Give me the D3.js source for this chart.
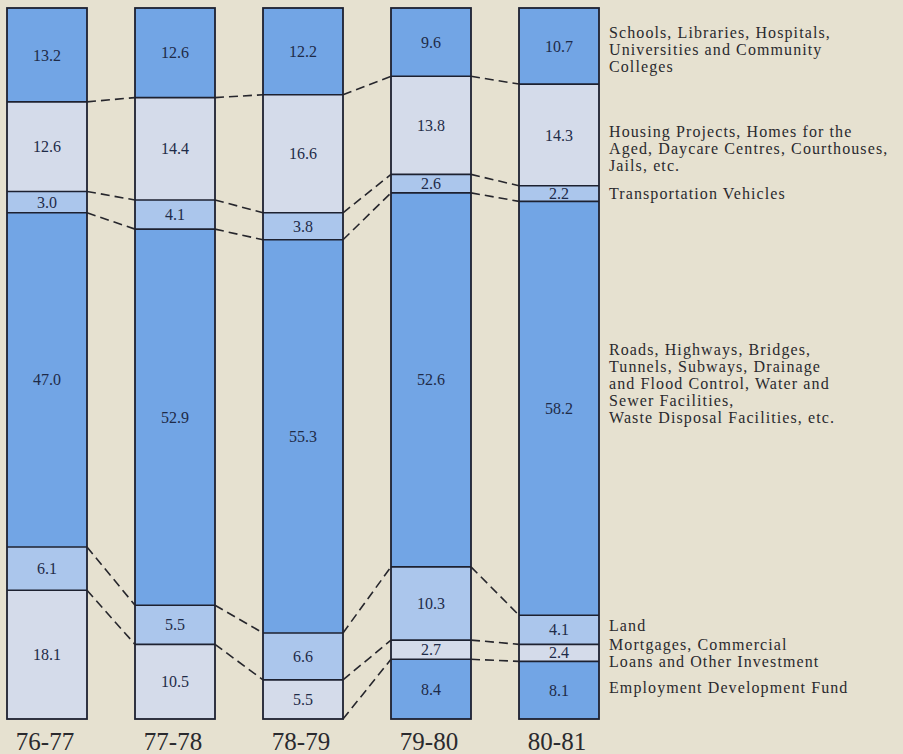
<!DOCTYPE html>
<html>
<head>
<meta charset="utf-8">
<script src="https://cdn.jsdelivr.net/npm/d3@7"></script>
<style>
  html, body { margin: 0; padding: 0; background: #e6e1d0; }
  svg { display: block; }
</style>
</head>
<body>
<svg id="chart" width="903" height="754"></svg>
<script>
// Fiscal years shown as stacked 100% bars
const years = ["76-77", "77-78", "78-79", "79-80", "80-81"];

// Spending categories, top to bottom in each bar
const categories = ["schools", "housing", "transport", "roads", "land", "mortgages", "employment"];

// Share of capital spending (%) per category per year
const schools    = [13.2, 12.6, 12.2, 9.6, 10.7];
const housing    = [12.6, 14.4, 16.6, 13.8, 14.3];
const transport  = [3.0, 4.1, 3.8, 2.6, 2.2];
const roads      = [47.0, 52.9, 55.3, 52.6, 58.2];
const land       = [6.1, 5.5, 6.6, 10.3, 4.1];
const mortgages  = [18.1, 10.5, 5.5, 2.7, 2.4];
const employment = [0, 0, 0, 8.4, 8.1];

// Category descriptions printed beside the last bar
const legendLines = [
  ["Schools, Libraries, Hospitals,", "Universities and Community", "Colleges"],
  ["Housing Projects, Homes for the", "Aged, Daycare Centres, Courthouses,", "Jails, etc."],
  ["Transportation Vehicles"],
  ["Roads, Highways, Bridges,", "Tunnels, Subways, Drainage", "and Flood Control, Water and", "Sewer Facilities,", "Waste Disposal Facilities, etc."],
  ["Land"],
  ["Mortgages, Commercial", "Loans and Other Investment"],
  ["Employment Development Fund"]
];

// ---- styling / layout ----
const colors = {
  schools: "#72a5e5", housing: "#d4dbea", transport: "#abc6ec", roads: "#72a5e5",
  land: "#abc6ec", mortgages: "#d4dbea", employment: "#72a5e5"
};
const legendBaselines = [38, 137, 199, 355, 631, 650, 693];
const legendX = 609;
const legendLineHeight = 17;
const ink = "#1d2130";
const serif = "'Liberation Serif', 'Times New Roman', serif";

const rows = years.map((y, i) => ({
  year: y,
  schools: schools[i], housing: housing[i], transport: transport[i], roads: roads[i],
  land: land[i], mortgages: mortgages[i], employment: employment[i]
}));

const stack = d3.stack().keys(categories);
const series = stack(rows);

const svg = d3.select("#chart");

const x = d3.scaleBand().domain(years).range([7, 599]).paddingInner(0.375).paddingOuter(0);
const y = d3.scaleLinear().domain([0, 100]).range([8, 719]);
const bw = x.bandwidth();

// Segment fills
const segG = svg.append("g");
series.forEach(s => {
  segG.selectAll(null)
    .data(s.filter(d => d[1] - d[0] > 0))
    .join("rect")
    .attr("x", d => x(d.data.year))
    .attr("y", d => y(d[0]))
    .attr("width", bw)
    .attr("height", d => y(d[1]) - y(d[0]))
    .attr("fill", colors[s.key]);
});

// Boundaries between segments inside each bar
const boundG = svg.append("g").attr("stroke", ink).attr("stroke-width", 1.6);
series.forEach(s => {
  boundG.selectAll(null)
    .data(s.filter(d => d[1] - d[0] > 0 && d[1] < 99.95))
    .join("line")
    .attr("x1", d => x(d.data.year))
    .attr("x2", d => x(d.data.year) + bw)
    .attr("y1", d => y(d[1]))
    .attr("y2", d => y(d[1]));
});

// Bar outlines
svg.append("g").selectAll("rect")
  .data(years)
  .join("rect")
  .attr("x", d => x(d))
  .attr("y", y(0))
  .attr("width", bw)
  .attr("height", y(100) - y(0))
  .attr("fill", "none")
  .attr("stroke", ink)
  .attr("stroke-width", 1.8);

// Dashed connectors linking the same boundary across neighbouring bars
const connG = svg.append("g")
  .attr("stroke", "#26262c")
  .attr("stroke-width", 1.6)
  .attr("stroke-dasharray", "9,5")
  .attr("fill", "none");
series.forEach(s => {
  for (let i = 0; i < years.length - 1; i++) {
    const a = s[i], b = s[i + 1];
    const aHas = a[1] - a[0] > 0, bHas = b[1] - b[0] > 0;
    if (!aHas || !bHas) continue;
    if (a[1] >= 99.95 && b[1] >= 99.95) continue;
    connG.append("line")
      .attr("x1", x(years[i]) + bw)
      .attr("y1", y(a[1]))
      .attr("x2", x(years[i + 1]))
      .attr("y2", y(b[1]));
  }
});

// Value labels centred in each segment
const labG = svg.append("g")
  .attr("font-family", serif)
  .attr("font-size", 16)
  .attr("fill", "#1e2b48")
  .attr("text-anchor", "middle");
series.forEach(s => {
  labG.selectAll(null)
    .data(s.filter(d => d[1] - d[0] > 0))
    .join("text")
    .attr("x", d => x(d.data.year) + bw / 2)
    .attr("y", d => (y(d[0]) + y(d[1])) / 2)
    .attr("dy", "0.35em")
    .text(d => (d[1] - d[0]).toFixed(1));
});

// Year labels under the bars
svg.append("g").selectAll("text")
  .data(years)
  .join("text")
  .attr("x", d => x(d) + bw / 2 - 2)
  .attr("y", 750)
  .attr("text-anchor", "middle")
  .attr("font-family", serif)
  .attr("font-size", 25)
  .attr("fill", "#2a2a2e")
  .text(d => d);

// Category descriptions
const legG = svg.append("g")
  .attr("font-family", serif)
  .attr("font-size", 16)
  .attr("letter-spacing", 1.1)
  .attr("fill", "#2a2a2e");
legendLines.forEach((lines, k) => {
  lines.forEach((t, j) => {
    legG.append("text")
      .attr("x", legendX)
      .attr("y", legendBaselines[k] + j * legendLineHeight)
      .text(t);
  });
});
</script>
</body>
</html>
